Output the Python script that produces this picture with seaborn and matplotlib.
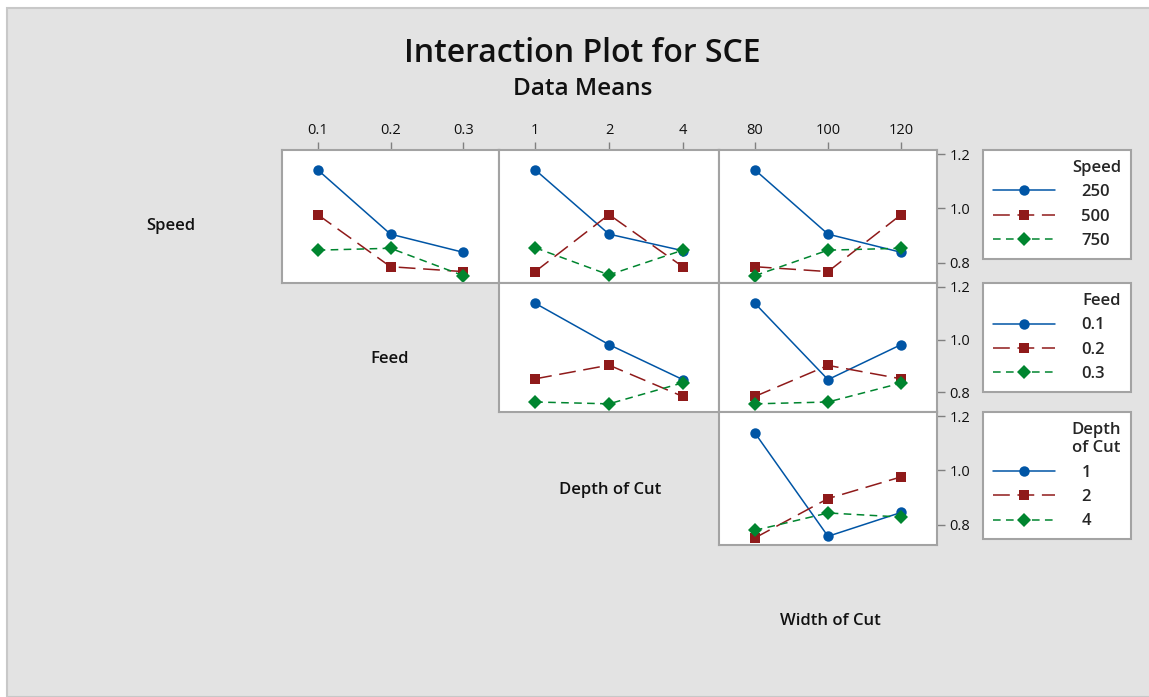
import numpy as np
import pandas as pd
import matplotlib.pyplot as plt
import seaborn as sns
from matplotlib.patches import Rectangle

# factor levels (as shown on the axes / legends)
factors = ['Speed', 'Feed', 'Depth of Cut', 'Width of Cut']
speed_levels = ['250', '500', '750']
feed_levels = ['0.1', '0.2', '0.3']
depth_levels = ['1', '2', '4']
width_levels = ['80', '100', '120']

# SCE means, one row per trace level, one column per x level
speed_x_feed = [[1.142, 0.905, 0.838], [0.977, 0.785, 0.767], [0.846, 0.853, 0.752]]
speed_x_depth = [[1.142, 0.905, 0.844], [0.767, 0.977, 0.785], [0.855, 0.755, 0.846]]
speed_x_width = [[1.142, 0.905, 0.838], [0.785, 0.767, 0.977], [0.752, 0.846, 0.853]]
feed_x_depth = [[1.138, 0.981, 0.848], [0.851, 0.903, 0.784], [0.763, 0.756, 0.836]]
feed_x_width = [[1.138, 0.848, 0.981], [0.784, 0.902, 0.851], [0.756, 0.763, 0.835]]
depth_x_width = [[1.138, 0.757, 0.845], [0.751, 0.896, 0.976], [0.779, 0.843, 0.828]]

y_ticks = [0.8, 1.0, 1.2]
legend_titles = ['Speed', 'Feed', 'Depth\nof Cut']

levels = [speed_levels, feed_levels, depth_levels, width_levels]
panels = {(0, 1): speed_x_feed, (0, 2): speed_x_depth, (0, 3): speed_x_width,
          (1, 2): feed_x_depth, (1, 3): feed_x_width, (2, 3): depth_x_width}

colors = ['#0055A5', '#8F1A1A', '#00852F']
markers = ['o', 's', 'D']
dashes = ['', (11, 5), (5, 3.5)]

sns.set_theme(style='white')
plt.rcParams['font.family'] = ['Open Sans', 'DejaVu Sans']

W, H = 1149, 697
fig = plt.figure(figsize=(W / 100, H / 100), dpi=100)
fig.patch.set_facecolor('white')
fig.patches.append(Rectangle((7 / W, 0), 1, 1 - 8 / H, transform=fig.transFigure,
                             facecolor='#E3E3E3', edgecolor='#C8C8C8', lw=1.5, zorder=-10))

def fx(px):
    return px / W

def fy(py):
    return 1 - py / H

col_edges = [63, 282, 499, 719, 937]
row_edges = [150, 283, 412, 545, 676]

for (r, c), vals in panels.items():
    x0, x1 = col_edges[c], col_edges[c + 1]
    y0, y1 = row_edges[r], row_edges[r + 1]
    ax = fig.add_axes([fx(x0), fy(y1), (x1 - x0) / W, (y1 - y0) / H])
    ax.set_facecolor('white')
    df = pd.DataFrame({
        'pos': np.tile([0, 1, 2], 3),
        'SCE': np.ravel(vals),
        'trace': np.repeat(levels[r], 3),
    })
    sns.lineplot(data=df, x='pos', y='SCE', hue='trace', style='trace',
                 hue_order=levels[r], style_order=levels[r], palette=colors,
                 markers=markers, dashes=dashes, markersize=7.5, linewidth=1.1,
                 markeredgewidth=0, legend=(c == 3), ax=ax)
    ax.set_xlim(-0.49, 2.49)
    ax.set_ylim(0.725, 1.215)
    ax.set_xlabel('')
    ax.set_ylabel('')
    for s in ax.spines.values():
        s.set_color('#A3A3A3')
        s.set_linewidth(1.5)
    ax.tick_params(direction='out', length=6, width=1, color='#808080',
                   labelsize=10.5, labelcolor='#111111', pad=3)
    if r == 0:
        ax.xaxis.tick_top()
        ax.set_xticks([0, 1, 2])
        ax.set_xticklabels(levels[c])
    else:
        ax.set_xticks([])
    if c == 3:
        ax.yaxis.tick_right()
        ax.set_yticks(y_ticks)
        ax.set_yticklabels([f'{v:.1f}' for v in y_ticks])
        handles, labels = ax.get_legend_handles_labels()
        ax.get_legend().remove()
        leg = fig.legend(handles, labels, title=legend_titles[r], loc='upper left',
                         bbox_to_anchor=(fx(983), fy(y0), fx(148), 0), mode='expand',
                         borderaxespad=0, frameon=True, fancybox=False,
                         edgecolor='#A3A3A3', facecolor='white', framealpha=1,
                         alignment='right', handlelength=3.7, handletextpad=1.6,
                         labelspacing=0.5, borderpad=0.6,
                         prop={'weight': 'semibold', 'size': 12},
                         title_fontproperties={'weight': 'semibold', 'size': 12})
        leg.get_frame().set_linewidth(1.5)
    else:
        ax.set_yticks([])

# factor names on the diagonal
label_pos = [(171, 226), (390, 359), (610, 490), (830, 621)]
for name, (px, py) in zip(factors, label_pos):
    fig.text(fx(px), fy(py), name, ha='center', va='center', fontsize=12,
             weight='semibold', color='#111111')

fig.text(fx(582), fy(54), 'Interaction Plot for SCE', ha='center', va='center',
         fontsize=23, weight='semibold', color='#111111')
fig.text(fx(583), fy(89), 'Data Means', ha='center', va='center',
         fontsize=17.5, weight='semibold', color='#111111')

fig.savefig('out.png', dpi=100, facecolor=fig.get_facecolor())
